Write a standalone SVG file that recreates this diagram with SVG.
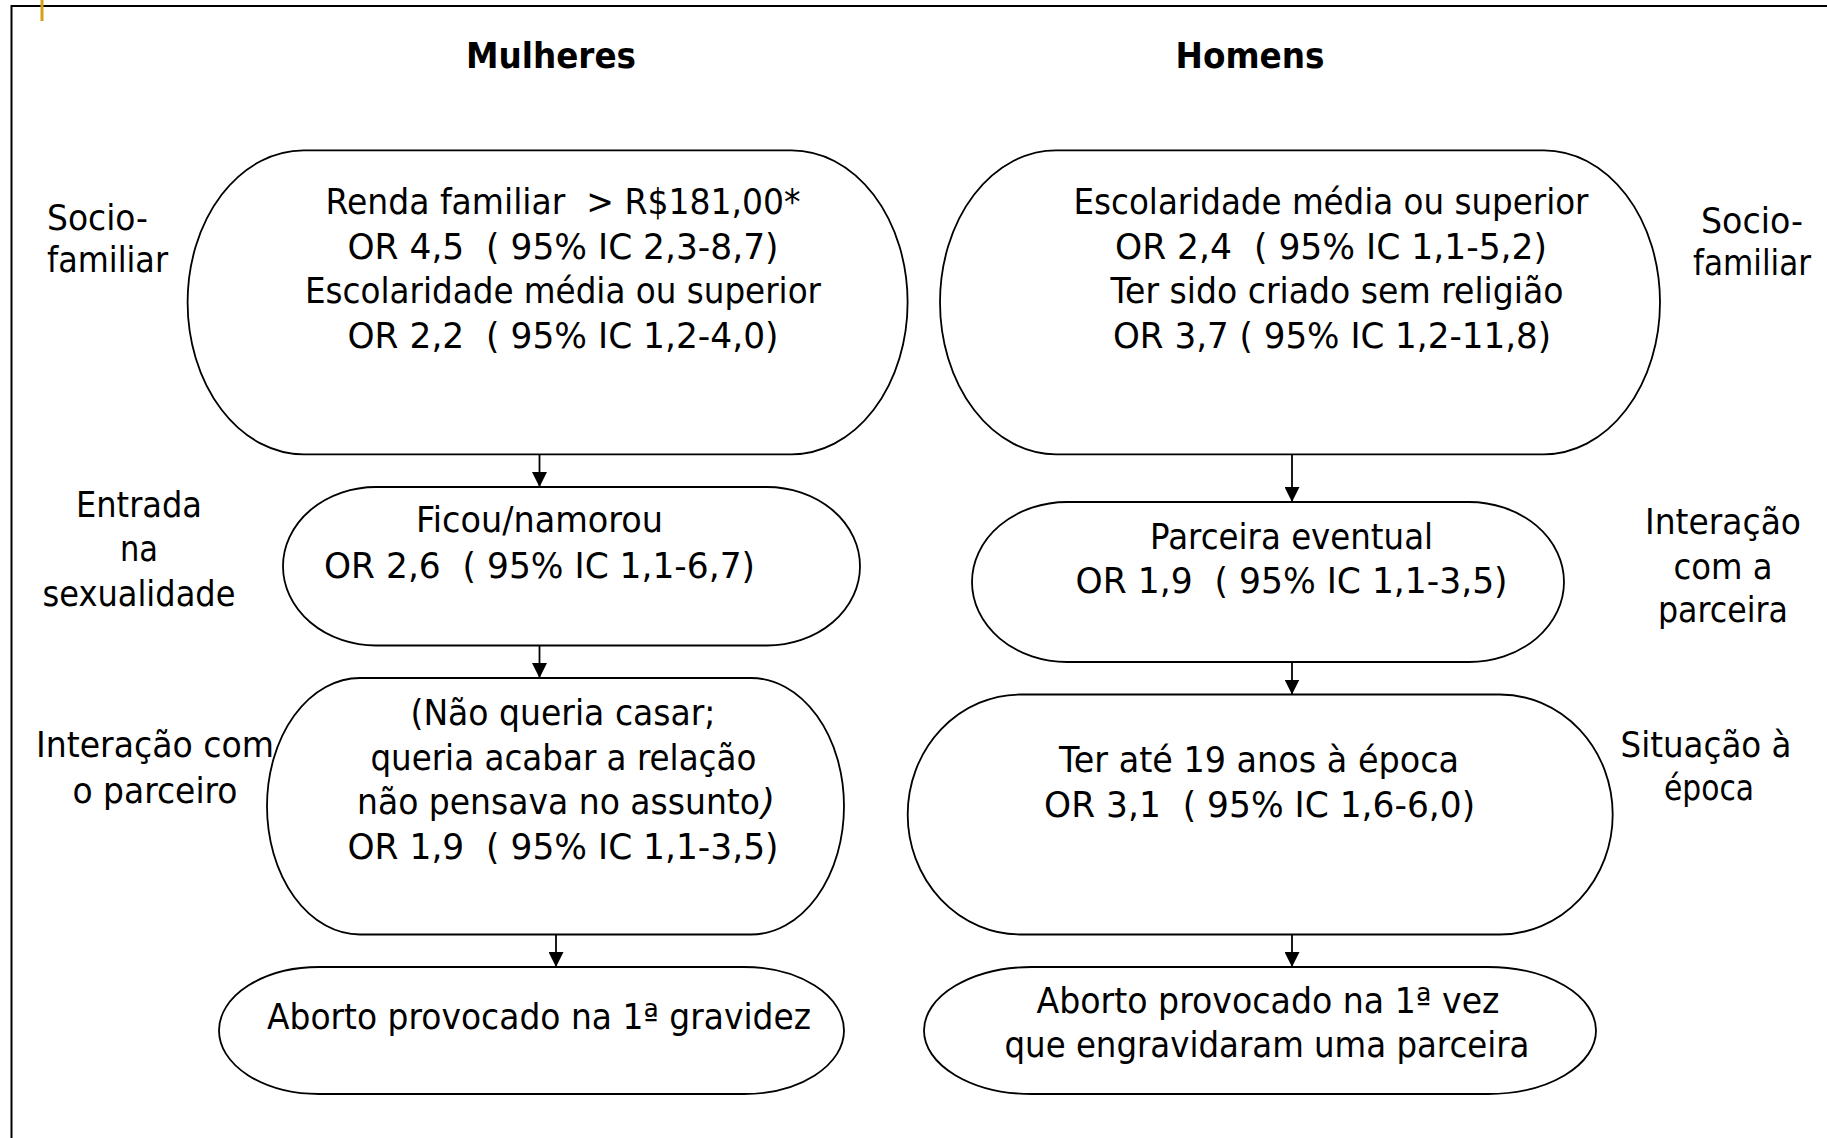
<svg xmlns="http://www.w3.org/2000/svg" width="1827" height="1138" viewBox="0 0 1827 1138">
<style>
.box{fill:#fff;stroke:#000;stroke-width:1.8}
.t{font-family:"DejaVu Sans","Liberation Sans",Verdana,sans-serif;font-size:36px;text-anchor:middle;fill:#000;white-space:pre}
.l{text-anchor:start}
.b{font-weight:bold}
.i{font-style:italic}
.con{stroke:#000;stroke-width:1.8;fill:none}
</style>
<defs>
<marker id="ah" markerWidth="15" markerHeight="15" refX="15" refY="7.5" orient="auto" markerUnits="userSpaceOnUse" viewBox="0 0 15 15">
<path d="M0,0 L15,7.5 L0,15 Z" fill="#000"/>
</marker>
</defs>
<rect x="11.5" y="6" width="1840" height="1150" fill="none" stroke="#000" stroke-width="2"/>
<line x1="42" y1="0" x2="42" y2="21" stroke="#D4A017" stroke-width="3"/>

<g id="titles">
<text class="t b" x="551" y="68" textLength="170" lengthAdjust="spacingAndGlyphs">Mulheres</text>
<text class="t b" x="1250" y="68" textLength="149" lengthAdjust="spacingAndGlyphs">Homens</text>
</g>

<g id="labels">
<text class="t l" x="47" y="230" textLength="101" lengthAdjust="spacingAndGlyphs">Socio-</text>
<text class="t l" x="47" y="272" textLength="121" lengthAdjust="spacingAndGlyphs">familiar</text>
<text class="t" x="139" y="517" textLength="126" lengthAdjust="spacingAndGlyphs">Entrada</text>
<text class="t" x="139" y="561" textLength="38" lengthAdjust="spacingAndGlyphs">na</text>
<text class="t" x="139" y="606" textLength="193" lengthAdjust="spacingAndGlyphs">sexualidade</text>
<text class="t" x="155" y="757" textLength="238" lengthAdjust="spacingAndGlyphs">Interação com</text>
<text class="t" x="155" y="803" textLength="165" lengthAdjust="spacingAndGlyphs">o parceiro</text>
<text class="t" x="1752" y="233" textLength="102" lengthAdjust="spacingAndGlyphs">Socio-</text>
<text class="t" x="1752" y="275" textLength="118" lengthAdjust="spacingAndGlyphs">familiar</text>
<text class="t" x="1723" y="534" textLength="156" lengthAdjust="spacingAndGlyphs">Interação</text>
<text class="t" x="1723" y="579" textLength="99" lengthAdjust="spacingAndGlyphs">com a</text>
<text class="t" x="1723" y="622" textLength="130" lengthAdjust="spacingAndGlyphs">parceira</text>
<text class="t" x="1706" y="757" textLength="171" lengthAdjust="spacingAndGlyphs">Situação à</text>
<text class="t" x="1709" y="800" textLength="90" lengthAdjust="spacingAndGlyphs">época</text>
</g>

<g id="connectors">
<line class="con" x1="539.5" y1="454.4" x2="539.5" y2="487" marker-end="url(#ah)"/>
<line class="con" x1="539.5" y1="645.5" x2="539.5" y2="678" marker-end="url(#ah)"/>
<line class="con" x1="556" y1="934.5" x2="556" y2="967" marker-end="url(#ah)"/>
<line class="con" x1="1292" y1="454.4" x2="1292" y2="502" marker-end="url(#ah)"/>
<line class="con" x1="1292" y1="662" x2="1292" y2="694.5" marker-end="url(#ah)"/>
<line class="con" x1="1292" y1="934.5" x2="1292" y2="967" marker-end="url(#ah)"/>
</g>

<g id="m1">
<rect class="box" x="187.6" y="150.3" width="720" height="304" rx="116" ry="152"/>
<text class="t" x="563" y="214" textLength="475" lengthAdjust="spacingAndGlyphs">Renda familiar  &gt; R$181,00*</text>
<text class="t" x="563" y="259" textLength="431" lengthAdjust="spacingAndGlyphs">OR 4,5  ( 95% IC 2,3-8,7)</text>
<text class="t" x="563" y="303" textLength="516" lengthAdjust="spacingAndGlyphs">Escolaridade média ou superior</text>
<text class="t" x="563" y="348" textLength="431" lengthAdjust="spacingAndGlyphs">OR 2,2  ( 95% IC 1,2-4,0)</text>
</g>

<g id="m2">
<rect class="box" x="283" y="487" width="577" height="158.5" rx="93" ry="79.25"/>
<text class="t" x="539.5" y="532" textLength="247" lengthAdjust="spacingAndGlyphs">Ficou/namorou</text>
<text class="t" x="539.5" y="578" textLength="431" lengthAdjust="spacingAndGlyphs">OR 2,6  ( 95% IC 1,1-6,7)</text>
</g>

<g id="m3">
<rect class="box" x="267" y="678" width="577" height="256.5" rx="93" ry="128.25"/>
<text class="t" x="563" y="725" textLength="305" lengthAdjust="spacingAndGlyphs">(Não queria casar;</text>
<text class="t" x="563.4" y="770" textLength="386" lengthAdjust="spacingAndGlyphs">queria acabar a relação</text>
<text class="t" x="558.5" y="814" textLength="403" lengthAdjust="spacingAndGlyphs">não pensava no assunto</text>
<text class="t i" x="768" y="814">)</text>
<text class="t" x="563" y="859" textLength="431" lengthAdjust="spacingAndGlyphs">OR 1,9  ( 95% IC 1,1-3,5)</text>
</g>

<g id="m4">
<rect class="box" x="219" y="967" width="625" height="127" rx="100" ry="63.5"/>
<text class="t" x="539" y="1029" textLength="544" lengthAdjust="spacingAndGlyphs">Aborto provocado na 1ª gravidez</text>
</g>

<g id="h1">
<rect class="box" x="940" y="150.3" width="720" height="304" rx="116" ry="152"/>
<text class="t" x="1331" y="214" textLength="515" lengthAdjust="spacingAndGlyphs">Escolaridade média ou superior</text>
<text class="t" x="1331" y="259" textLength="432" lengthAdjust="spacingAndGlyphs">OR 2,4  ( 95% IC 1,1-5,2)</text>
<text class="t" x="1337" y="303" textLength="453" lengthAdjust="spacingAndGlyphs">Ter sido criado sem religião</text>
<text class="t" x="1332" y="348" textLength="438" lengthAdjust="spacingAndGlyphs">OR 3,7 ( 95% IC 1,2-11,8)</text>
</g>

<g id="h2">
<rect class="box" x="972" y="502" width="592" height="160" rx="95" ry="80"/>
<text class="t" x="1291.6" y="549" textLength="283" lengthAdjust="spacingAndGlyphs">Parceira eventual</text>
<text class="t" x="1291.6" y="593" textLength="432" lengthAdjust="spacingAndGlyphs">OR 1,9  ( 95% IC 1,1-3,5)</text>
</g>

<g id="h3">
<rect class="box" x="907.7" y="694.5" width="705" height="240" rx="113" ry="120"/>
<text class="t" x="1259" y="772" textLength="400" lengthAdjust="spacingAndGlyphs">Ter até 19 anos à época</text>
<text class="t" x="1259.6" y="817" textLength="431" lengthAdjust="spacingAndGlyphs">OR 3,1  ( 95% IC 1,6-6,0)</text>
</g>

<g id="h4">
<rect class="box" x="924" y="967" width="672" height="127" rx="108" ry="63.5"/>
<text class="t" x="1268" y="1013" textLength="463" lengthAdjust="spacingAndGlyphs">Aborto provocado na 1ª vez</text>
<text class="t" x="1267" y="1057" textLength="525" lengthAdjust="spacingAndGlyphs">que engravidaram uma parceira</text>
</g>
</svg>
